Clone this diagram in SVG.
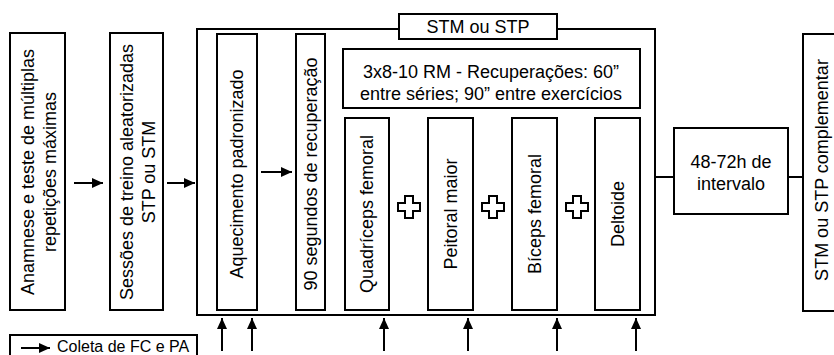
<svg xmlns="http://www.w3.org/2000/svg" width="834" height="355" viewBox="0 0 834 355">
<defs>
<marker id="ah" markerUnits="userSpaceOnUse" markerWidth="11" markerHeight="10" refX="11" refY="5" orient="auto">
<path d="M0,0 L11,5 L0,10 z" fill="#000"/>
</marker>
<style>
rect{fill:#fff;stroke:#000;stroke-width:2}
.t{font-family:"Liberation Sans",Arial,Helvetica,sans-serif;font-size:18px;fill:#000;text-anchor:middle}
.c{stroke:#000;stroke-width:2;fill:none}
.a{stroke:#000;stroke-width:2;fill:none;marker-end:url(#ah)}
.plus{fill:#fff;stroke:#000;stroke-width:2}
</style>
</defs>
<rect width="834" height="355" style="stroke:none;fill:#fff"/>
<g id="n1"><rect x="10" y="33" width="55" height="277"/><text class="t" transform="translate(37.5,172) rotate(-90)"><tspan x="0" y="-3.7">Anamnese e teste de múltiplas</tspan><tspan x="0" y="18.3">repetições máximas</tspan></text></g>
<g id="n2"><rect x="110" y="33" width="53" height="277"/><text class="t" transform="translate(136.5,172) rotate(-90)"><tspan x="0" y="-3.7">Sessões de treino aleatorizadas</tspan><tspan x="0" y="18.3">STP ou STM</tspan></text></g>
<g id="session"><rect x="197" y="29" width="458" height="286"/><rect x="399" y="14" width="158" height="25"/><text class="t" x="478" y="33">STM ou STP</text></g>
<g id="n3"><rect x="217" y="34" width="40" height="276"/><text class="t" transform="translate(237,174) rotate(-90)" y="6.3">Aquecimento padronizado</text></g>
<g id="n4"><rect x="296" y="34" width="29" height="276"/><text class="t" transform="translate(310.5,174) rotate(-90)" y="6.3">90 segundos de recuperação</text></g>
<g id="n5"><rect x="343" y="49" width="297" height="59"/><text class="t"><tspan x="491" y="77.5">3x8-10 RM - Recuperações: 60”</tspan><tspan x="491" y="99.5">entre séries; 90” entre exercícios</tspan></text></g>
<g id="n6"><rect x="345" y="118" width="44" height="192"/><text class="t" transform="translate(367,214) rotate(-90)" y="6.3">Quadríceps femoral</text></g>
<g id="n7"><rect x="428" y="118" width="45" height="192"/><text class="t" transform="translate(450.5,214) rotate(-90)" y="6.3">Peitoral maior</text></g>
<g id="n8"><rect x="512" y="118" width="45" height="192"/><text class="t" transform="translate(534.5,214) rotate(-90)" y="6.3">Bíceps femoral</text></g>
<g id="n9"><rect x="595" y="118" width="45" height="192"/><text class="t" transform="translate(617.5,214) rotate(-90)" y="6.3">Deltoide</text></g>
<g id="plus1"><path class="plus" d="M405,196 h8 v7 h7 v8 h-7 v7 h-8 v-7 h-7 v-8 h7 z"/></g>
<g id="plus2"><path class="plus" d="M489,196 h8 v7 h7 v8 h-7 v7 h-8 v-7 h-7 v-8 h7 z"/></g>
<g id="plus3"><path class="plus" d="M573,196 h8 v7 h7 v8 h-7 v7 h-8 v-7 h-7 v-8 h7 z"/></g>
<g id="n10"><rect x="674" y="128" width="114" height="86"/><text class="t"><tspan x="731" y="168">48-72h de</tspan><tspan x="731" y="190">intervalo</tspan></text></g>
<g id="n11"><rect x="803" y="34" width="50" height="277"/><text class="t" transform="translate(822,170) rotate(-90)" y="6.3">STM ou STP complementar</text></g>
<g id="legend"><rect x="10" y="335" width="187" height="30"/><line class="a" x1="21" y1="348" x2="50" y2="348"/><text class="t" x="57" y="351.5" style="text-anchor:start;font-size:16px">Coleta de FC e PA</text></g>
<g id="connectors">
<line class="a" x1="74" y1="183" x2="103" y2="183"/>
<line class="a" x1="167" y1="183" x2="195" y2="183"/>
<line class="a" x1="261" y1="172" x2="292" y2="172"/>
<line class="c" x1="655" y1="177" x2="674" y2="177"/>
<line class="c" x1="788" y1="177" x2="803" y2="177"/>
<line class="a" x1="222" y1="351" x2="222" y2="318"/>
<line class="a" x1="252" y1="351" x2="252" y2="318"/>
<line class="a" x1="384" y1="351" x2="384" y2="318"/>
<line class="a" x1="468" y1="351" x2="468" y2="318"/>
<line class="a" x1="557" y1="351" x2="557" y2="318"/>
<line class="a" x1="636" y1="351" x2="636" y2="318"/>
</g>
</svg>
